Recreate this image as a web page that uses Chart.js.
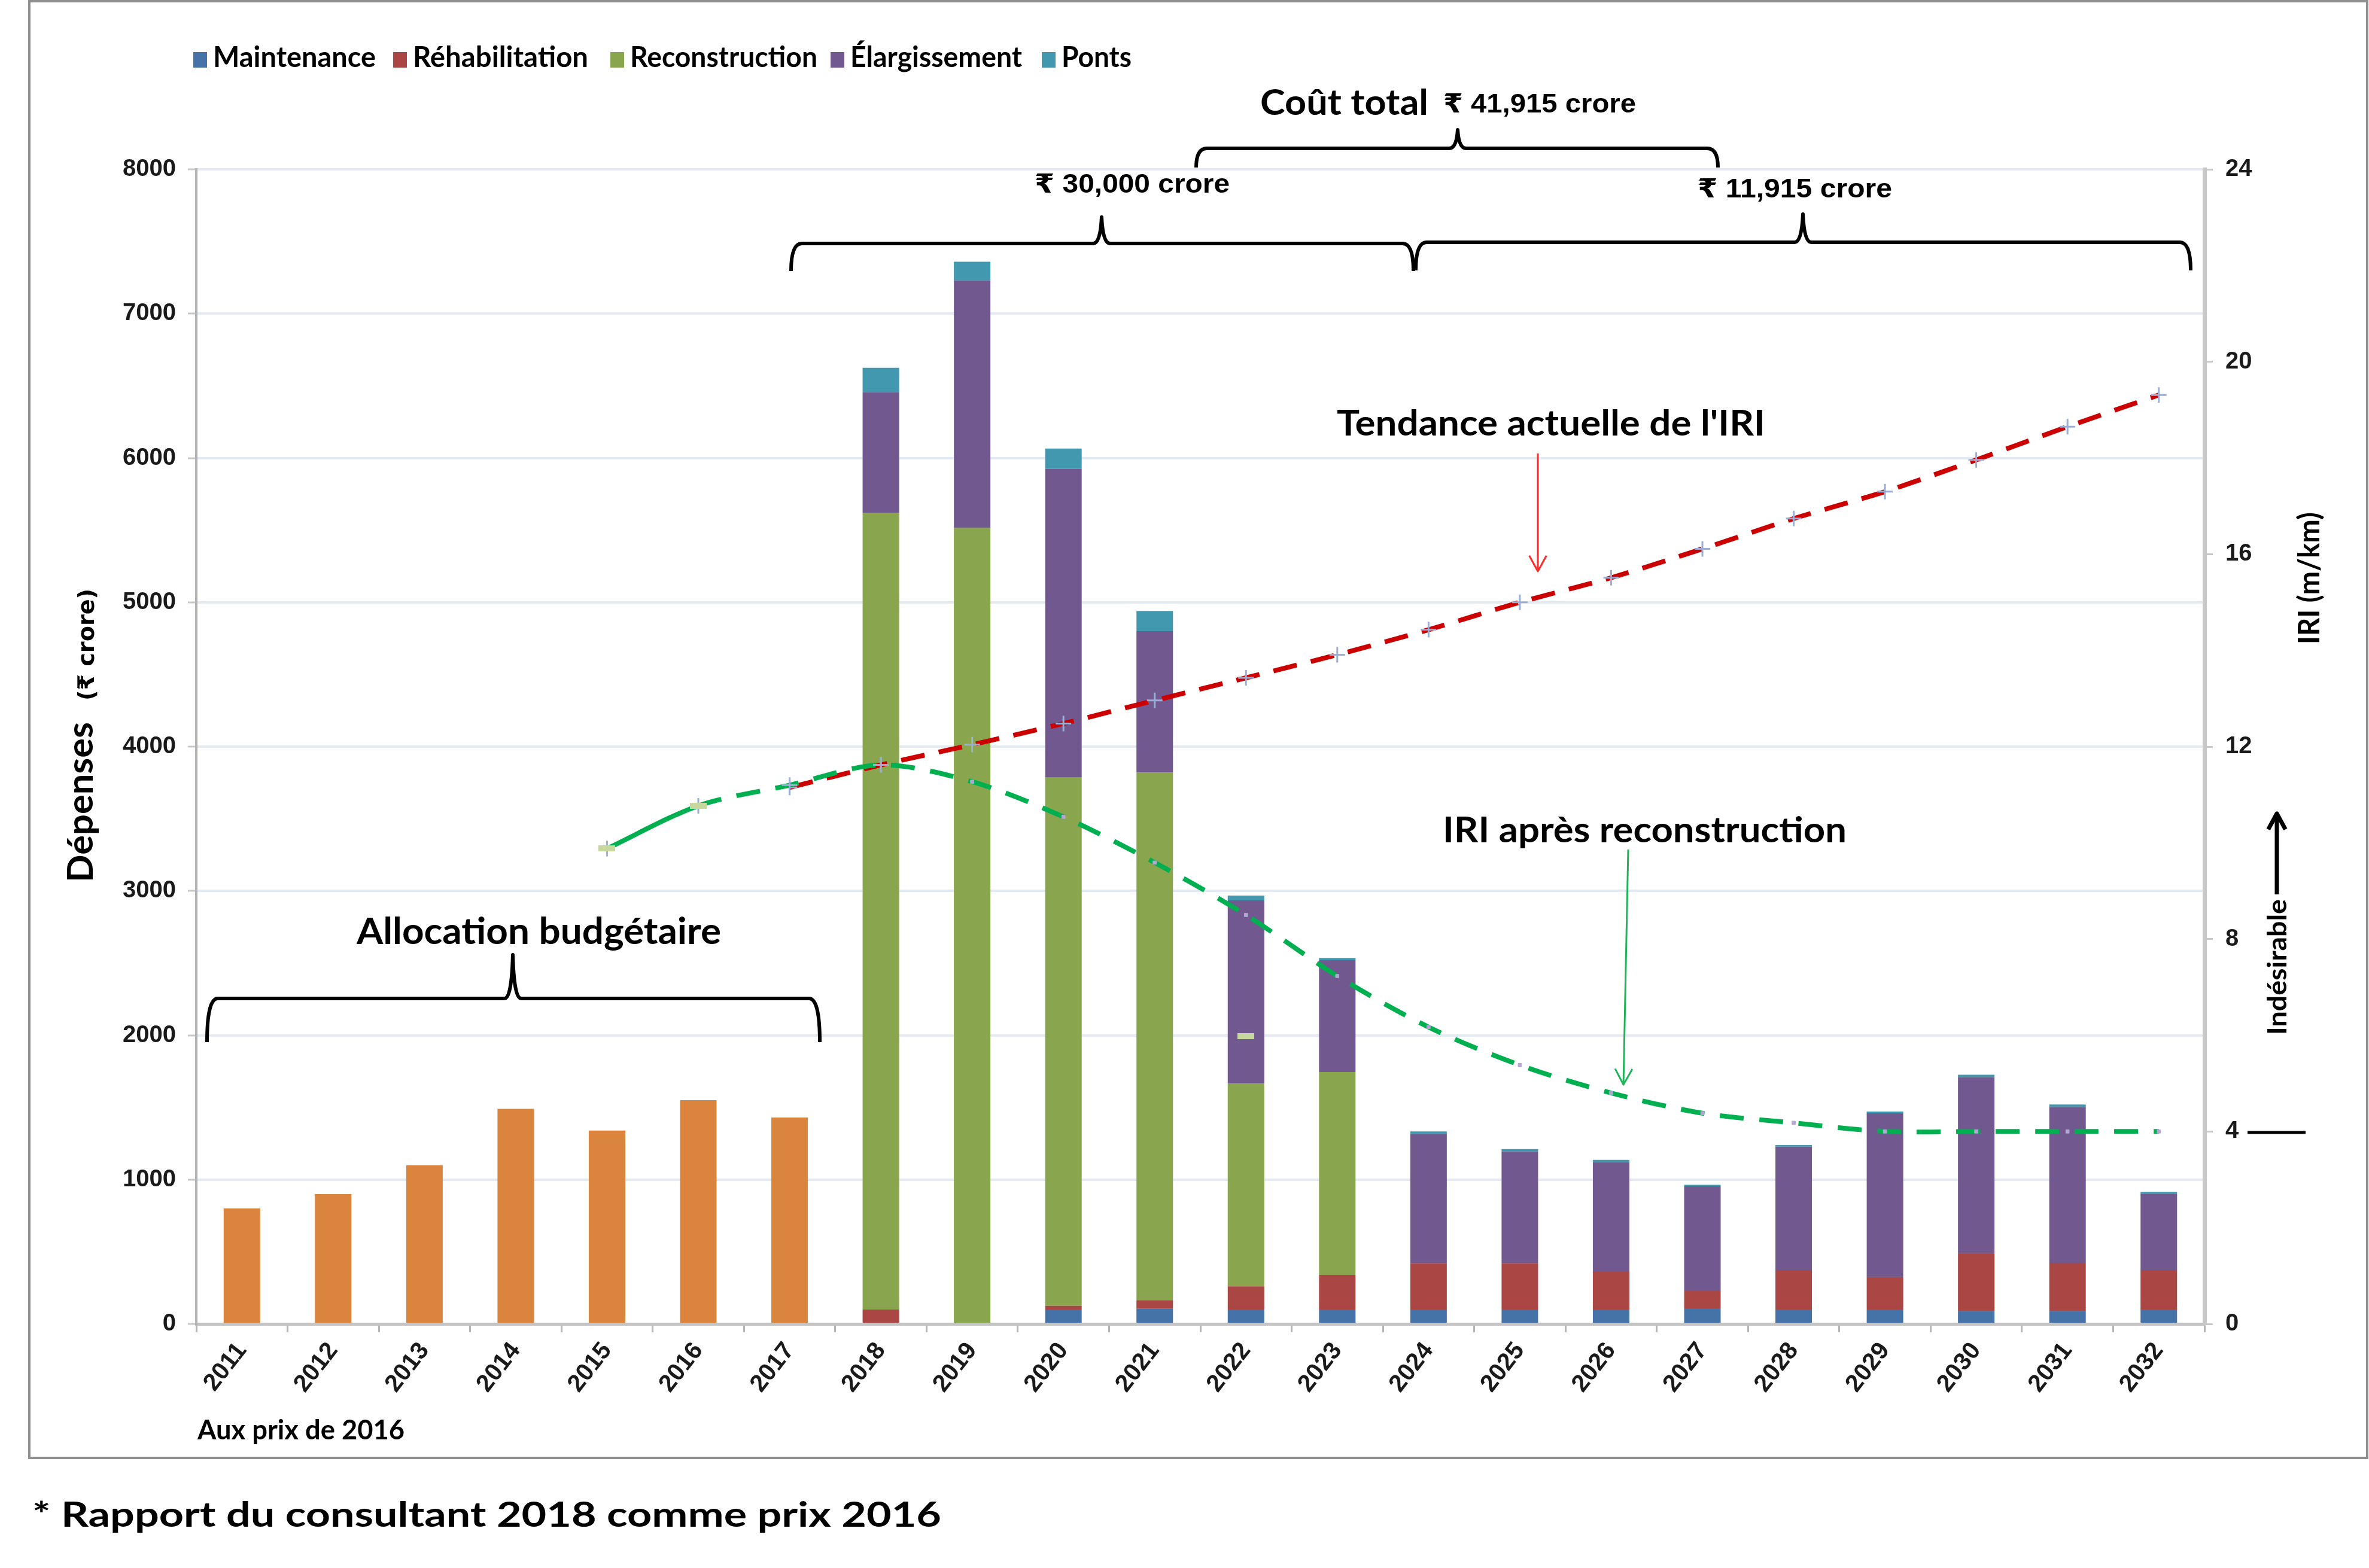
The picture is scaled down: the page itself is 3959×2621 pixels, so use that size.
<!DOCTYPE html>
<html lang="fr">
<head>
<meta charset="UTF-8" />
<title>Dépenses et IRI</title>
<script src="https://cdn.jsdelivr.net/npm/chart.js"></script>
<style>
  body { margin: 0; background: #ffffff; }
  canvas { display: block; }
</style>
</head>
<body>
<canvas id="chart" width="3959" height="2621"></canvas>
<script>
// ---- data ----
const years = ['2011','2012','2013','2014','2015','2016','2017','2018','2019','2020','2021',
               '2022','2023','2024','2025','2026','2027','2028','2029','2030','2031','2032'];

const budget        = [800, 900, 1100, 1490, 1340, 1550, 1430, null, null, null, null, null, null, null, null, null, null, null, null, null, null, null];
const maintenance   = [null, null, null, null, null, null, null, 0, 0, 100, 105, 100, 100, 100, 100, 100, 108, 100, 100, 90, 90, 100];
const rehab         = [null, null, null, null, null, null, null, 100, 0, 25, 60, 160, 240, 320, 320, 265, 120, 273, 224, 400, 333, 273];
const reconstruction= [null, null, null, null, null, null, null, 5520, 5515, 3660, 3655, 1405, 1405, 0, 0, 0, 0, 0, 0, 0, 0, 0];
const widening      = [null, null, null, null, null, null, null, 835, 1715, 2140, 980, 1270, 775, 895, 775, 755, 725, 855, 1135, 1220, 1080, 530];
const bridges       = [null, null, null, null, null, null, null, 170, 130, 140, 140, 33, 16, 19, 16, 17, 11, 11, 12, 16, 17, 12];

const iriTrend   = [null, null, null, null, null, null, 11.15, 11.62, 12.04, 12.48, 12.96, 13.43, 13.91, 14.43, 15.0, 15.51, 16.11, 16.74, 17.3, 17.96, 18.65, 19.31];
const iriAfter   = [null, null, null, null, 9.88, 10.77, 11.2, 11.62, 11.27, 10.54, 9.59, 8.5, 7.23, 6.17, 5.38, 4.8, 4.38, 4.18, 4.0, 4.0, 4.0, 4.0];
const iriMarks   = [null, null, null, null, 9.88, 10.77, null, null, null, null, null, 5.98, null, null, null, null, null, null, null, null, null, null];

const leftTicks  = { min: 0, max: 8000, step: 1000 };
const rightTicks = { min: 0, max: 24, step: 4 };

// ---- helpers ----
const CAL = 'Lato, "Noto Sans", "DejaVu Sans", sans-serif';
const ARI = '"Liberation Sans", Arial, "DejaVu Sans", sans-serif';

function fitText(ctx, txt, x, y, font, w, color) {
  ctx.save();
  ctx.font = font;
  ctx.fillStyle = color || '#000';
  ctx.textAlign = 'left';
  ctx.textBaseline = 'alphabetic';
  const m = ctx.measureText(txt).width;
  ctx.translate(x, y);
  ctx.scale(w / m, 1);
  ctx.fillText(txt, 0, 0);
  ctx.restore();
}

function vText(ctx, txt, x, yBottom, font, len) {
  ctx.save();
  ctx.font = font;
  ctx.fillStyle = '#000';
  ctx.textAlign = 'left';
  ctx.textBaseline = 'alphabetic';
  const m = ctx.measureText(txt).width;
  ctx.translate(x, yBottom);
  ctx.rotate(-Math.PI / 2);
  ctx.scale(len / m, 1);
  ctx.fillText(txt, 0, 0);
  ctx.restore();
}

function brace(ctx, x1, x2, y, h, tx, ty) {
  ctx.beginPath();
  ctx.moveTo(x1, y + h);
  ctx.quadraticCurveTo(x1, y, x1 + 18, y);
  ctx.lineTo(tx - 14, y);
  ctx.quadraticCurveTo(tx - 2, y, tx, ty);
  ctx.quadraticCurveTo(tx + 2, y, tx + 14, y);
  ctx.lineTo(x2 - 18, y);
  ctx.quadraticCurveTo(x2, y, x2, y + h);
  ctx.stroke();
}

function arrow(ctx, x1, y1, x2, y2, color, lw, head) {
  ctx.save();
  ctx.strokeStyle = color;
  ctx.lineWidth = lw;
  ctx.beginPath();
  ctx.moveTo(x1, y1);
  ctx.lineTo(x2, y2);
  ctx.stroke();
  const a = Math.atan2(y2 - y1, x2 - x1);
  ctx.beginPath();
  ctx.moveTo(x2 - head * Math.cos(a - 0.5), y2 - head * Math.sin(a - 0.5));
  ctx.lineTo(x2, y2);
  ctx.lineTo(x2 - head * Math.cos(a + 0.5), y2 - head * Math.sin(a + 0.5));
  ctx.stroke();
  ctx.restore();
}

// pale green flat marker
const flatMark = document.createElement('canvas');
flatMark.width = 28; flatMark.height = 10;
(function () {
  const c = flatMark.getContext('2d');
  c.fillStyle = '#c6d89e';
  c.fillRect(0, 0, 28, 10);
})();

const annotations = {
  id: 'annotations',
  beforeDraw(chart) {
    const ctx = chart.ctx;
    ctx.save();
    ctx.fillStyle = '#ffffff';
    ctx.fillRect(0, 0, chart.width, chart.height);
    ctx.restore();
  },
  afterDraw(chart) {
    const ctx = chart.ctx;
    ctx.save();

    // outer frame
    ctx.strokeStyle = '#8f8f8f';
    ctx.lineWidth = 4;
    ctx.strokeRect(49, 2, 3907, 2435);

    // legend (bar series only)
    const legendX = [323, 657, 1020, 1388, 1741];
    const legendW = [272, 293, 313, 287, 117];
    chart.data.datasets.slice(1, 6).forEach((ds, i) => {
      ctx.fillStyle = ds.backgroundColor;
      ctx.fillRect(legendX[i], 87, 23, 26);
      fitText(ctx, ds.label, legendX[i] + 33, 112, 'bold 48px ' + CAL, legendW[i]);
    });

    // top cost annotations
    ctx.strokeStyle = '#000';
    ctx.lineWidth = 6;
    ctx.lineJoin = 'round';
    fitText(ctx, 'Coût total', 2106, 192, 'bold 60px ' + CAL, 281);
    fitText(ctx, '₹ 41,915 crore', 2412, 188, 'bold 44px ' + ARI, 322);
    brace(ctx, 1999, 2871, 248, 32, 2436, 217);
    fitText(ctx, '₹ 30,000 crore', 1729, 322, 'bold 44px ' + ARI, 326);
    fitText(ctx, '₹ 11,915 crore', 2837, 330, 'bold 44px ' + ARI, 325);
    brace(ctx, 1322, 2362, 407, 46, 1841, 363);
    brace(ctx, 2366, 3661, 405, 47, 3013, 358);

    // budget allocation
    fitText(ctx, 'Allocation budgétaire', 596, 1578, 'bold 62px ' + CAL, 609);
    ctx.lineWidth = 6;
    brace(ctx, 346, 1370, 1669, 73, 857, 1596);

    // curve labels
    fitText(ctx, "Tendance actuelle de l'IRI", 2234, 728, 'bold 60px ' + CAL, 716);
    arrow(ctx, 2570, 758, 2570, 955, '#ff2a2a', 3, 30);
    fitText(ctx, 'IRI après reconstruction', 2411, 1408, 'bold 60px ' + CAL, 675);
    arrow(ctx, 2721, 1420, 2713, 1813, '#1fb45a', 3, 30);

    // axis titles
    vText(ctx, 'Dépenses', 155, 1475, 'bold 60px ' + CAL, 268);
    vText(ctx, '(₹ crore)', 157, 1171, 'bold 38px "DejaVu Sans", sans-serif', 187);
    vText(ctx, 'IRI (m/km)', 3876, 1077, 'bold 50px ' + CAL, 221);
    vText(ctx, 'Indésirable', 3821, 1730, 'bold 44px ' + CAL, 227);
    arrow(ctx, 3805, 1495, 3805, 1360, '#000', 7, 30);
    ctx.strokeStyle = '#000';
    ctx.lineWidth = 5;
    ctx.beginPath();
    ctx.moveTo(3756, 1893);
    ctx.lineTo(3853, 1893);
    ctx.stroke();

    // notes
    fitText(ctx, 'Aux prix de 2016', 330, 2406, 'bold 45px ' + CAL, 346);
    fitText(ctx, '* Rapport du consultant 2018 comme prix 2016', 54, 2552, 'bold 58px ' + CAL, 1519);

    ctx.restore();
  }
};

const barCommon = { type: 'bar', yAxisID: 'y', stack: 'cost', barPercentage: 0.4, categoryPercentage: 1, order: 2 };

new Chart(document.getElementById('chart'), {
  data: {
    labels: years,
    datasets: [
      Object.assign({ label: 'Allocation budgétaire', data: budget, backgroundColor: '#db843d' }, barCommon),
      Object.assign({ label: 'Maintenance', data: maintenance, backgroundColor: '#4572a7' }, barCommon),
      Object.assign({ label: 'Réhabilitation', data: rehab, backgroundColor: '#aa4643' }, barCommon),
      Object.assign({ label: 'Reconstruction', data: reconstruction, backgroundColor: '#89a54e' }, barCommon),
      Object.assign({ label: 'Élargissement', data: widening, backgroundColor: '#71588f' }, barCommon),
      Object.assign({ label: 'Ponts', data: bridges, backgroundColor: '#4198af' }, barCommon),
      {
        type: 'line', label: "Tendance actuelle de l'IRI", data: iriTrend, yAxisID: 'y1', order: 1,
        borderColor: '#cc0000', borderWidth: 8, borderDash: [40, 24], tension: 0.25,
        pointStyle: 'cross', pointRadius: 13, pointBorderColor: '#9aaed6', pointBorderWidth: 3,
        fill: false
      },
      {
        type: 'line', label: 'IRI après reconstruction', data: iriAfter, yAxisID: 'y1', order: 0,
        borderColor: '#00b050', borderWidth: 8, tension: 0.3, fill: false,
        segment: { borderDash: c => c.p0DataIndex === 4 ? [] : [40, 26] },
        pointStyle: c => c.dataIndex <= 7 ? 'cross' : 'rect',
        pointRadius: c => c.dataIndex <= 7 ? 13 : 4,
        pointBorderColor: c => c.dataIndex <= 7 ? '#9aaed6' : '#b3a6d4',
        pointBackgroundColor: '#b3a6d4',
        pointBorderWidth: c => c.dataIndex <= 7 ? 3 : 1
      },
      {
        type: 'line', label: 'repères', data: iriMarks, yAxisID: 'y1', order: -1,
        showLine: false, pointStyle: flatMark, pointRadius: 10
      }
    ]
  },
  options: {
    responsive: false,
    devicePixelRatio: 1,
    animation: false,
    layout: { padding: { top: 283, left: 0, right: 0, bottom: 0 } },
    plugins: { legend: { display: false }, tooltip: { enabled: false } },
    scales: {
      x: {
        stacked: true,
        offset: true,
        grid: { offset: true, drawOnChartArea: false, drawTicks: true, tickLength: 14, color: '#b5b5b5', lineWidth: 3 },
        border: { color: '#c4c4c4', width: 5 },
        ticks: { autoSkip: false, minRotation: 52, maxRotation: 52, padding: 8, color: '#1a1a1a',
                 font: { family: ARI, size: 41, weight: 'bold' } },
        afterFit: s => { s.height = 408; }
      },
      y: {
        position: 'left',
        stacked: true,
        min: leftTicks.min, max: leftTicks.max,
        ticks: { stepSize: leftTicks.step, padding: 20, color: '#1a1a1a',
                 callback: v => String(v),
                 font: { family: ARI, size: 40, weight: 'bold' } },
        grid: { color: '#e3eaf3', lineWidth: 4, tickLength: 14, tickColor: '#c8c8c8', tickWidth: 3 },
        border: { color: '#b3b3b3', width: 4 },
        afterFit: s => { s.width = 328; }
      },
      y1: {
        position: 'right',
        min: rightTicks.min, max: rightTicks.max,
        ticks: { stepSize: rightTicks.step, padding: 21, color: '#1a1a1a',
                 font: { family: ARI, size: 40, weight: 'bold' } },
        grid: { drawOnChartArea: false, tickLength: 14, color: '#c8c8c8', lineWidth: 3 },
        border: { color: '#c8c8c8', width: 7 },
        afterFit: s => { s.width = 275; }
      }
    }
  },
  plugins: [annotations]
});
</script>
</body>
</html>
